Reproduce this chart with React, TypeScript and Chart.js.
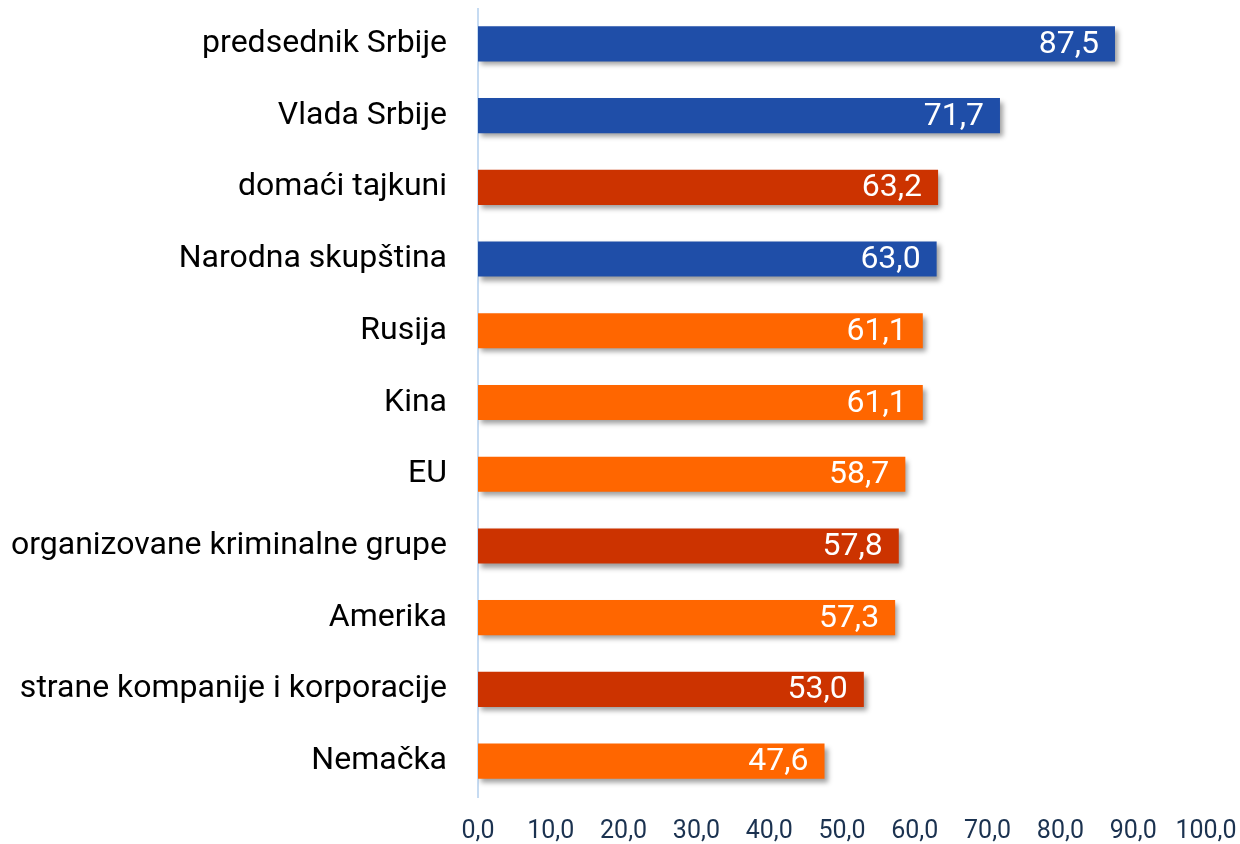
import React, { useEffect, useRef } from "react";
import { Chart, registerables } from "chart.js";

Chart.register(...registerables);

const categories = [
  "predsednik Srbije",
  "Vlada Srbije",
  "domaći tajkuni",
  "Narodna skupština",
  "Rusija",
  "Kina",
  "EU",
  "organizovane kriminalne grupe",
  "Amerika",
  "strane kompanije i korporacije",
  "Nemačka",
];
const values = [87.5, 71.7, 63.2, 63.0, 61.1, 61.1, 58.7, 57.8, 57.3, 53.0, 47.6];
const groups = ["inst", "inst", "dom", "inst", "foreign", "foreign", "foreign", "dom", "foreign", "dom", "foreign"];
const groupColors: Record<string, string> = {
  inst: "#1F4EA8",
  dom: "#CC3300",
  foreign: "#FF6600",
};
const axisMin = 0;
const axisMax = 100;
const axisStep = 10;

const fmt = (v: number) => v.toFixed(1).replace(".", ",");

const shadowPlugin = {
  id: "barShadow",
  beforeDatasetsDraw(chart: any) {
    const ctx = chart.ctx;
    ctx.save();
    ctx.shadowColor = "rgba(0,0,0,0.38)";
    ctx.shadowBlur = 5;
    ctx.shadowOffsetX = 3;
    ctx.shadowOffsetY = 4;
  },
  afterDatasetsDraw(chart: any) {
    const ctx = chart.ctx;
    ctx.restore();
    const meta = chart.getDatasetMeta(0);
    ctx.save();
    ctx.fillStyle = "#FFFFFF";
    ctx.font = "32px Roboto";
    ctx.textAlign = "right";
    ctx.textBaseline = "middle";
    meta.data.forEach((bar: any, i: number) => {
      ctx.fillText(fmt(values[i]), bar.x - 16, bar.y + 1);
    });
    ctx.restore();
  },
};

export default function App() {
  const ref = useRef<HTMLCanvasElement>(null);
  useEffect(() => {
    if (!ref.current) return;
    const chart = new Chart(ref.current, {
      type: "bar",
      data: {
        labels: categories,
        datasets: [
          {
            data: values,
            backgroundColor: groups.map((g) => groupColors[g]),
            barPercentage: 0.49,
            categoryPercentage: 1,
          },
        ],
      },
      options: {
        indexAxis: "y",
        animation: false,
        responsive: true,
        maintainAspectRatio: false,
        layout: { padding: 0 },
        plugins: { legend: { display: false }, tooltip: { enabled: false } },
        scales: {
          x: {
            min: axisMin,
            max: axisMax,
            afterFit: (s: any) => {
              s.height = 47;
              s.paddingLeft = 0;
              s.paddingRight = 34;
            },
            ticks: {
              stepSize: axisStep,
              color: "#1B3250",
              font: { family: "Roboto", size: 25 },
              padding: 20,
              callback: (v: any) => fmt(Number(v)),
              maxRotation: 0,
              autoSkip: false,
            },
            grid: { display: false, drawTicks: false },
            border: { display: false },
          },
          y: {
            afterFit: (s: any) => {
              s.width = 470;
              s.paddingTop = 0;
              s.paddingBottom = 0;
            },
            ticks: {
              color: "#000000",
              font: { family: "Roboto", size: 32 },
              padding: 31,
            },
            grid: { display: false, drawTicks: false },
            border: { display: true, color: "#C6DBF2", width: 2 },
          },
        },
      },
      plugins: [shadowPlugin],
    });
    return () => chart.destroy();
  }, []);
  return (
    <div style={{ position: "fixed", left: 8, top: 8, width: 1232, height: 836 }}>
      <canvas ref={ref} />
    </div>
  );
}
